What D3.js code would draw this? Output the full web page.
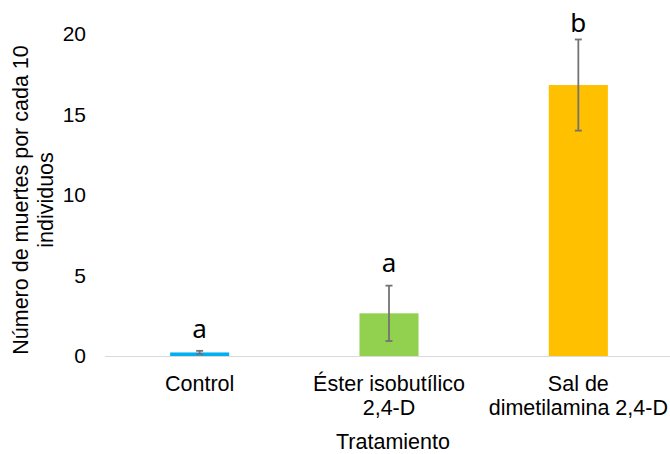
<!DOCTYPE html>
<html><head><meta charset="utf-8">
<script src="https://cdn.jsdelivr.net/npm/d3@7"></script>
<style>body{margin:0;background:#fff}svg{display:block}</style>
</head><body>
<svg id="c" width="670" height="454"></svg>
<script>
const categories = [["Control"], ["Éster isobutílico", "2,4-D"], ["Sal de", "dimetilamina 2,4-D"]];
const means = [0.22, 2.65, 16.83];
const errors = [0.1, 1.72, 2.83];
const letters = ["a", "a", "b"];
const letterAt = [1.1, 5.2, 20.14];
const colors = ["#00B0F0", "#92D050", "#FFC000"];
const yTicks = [0, 5, 10, 15, 20];
const yTitle = ["Número de muertes por cada 10", "individuos"];
const xTitle = "Tratamiento";

const svg = d3.select("#c");
const font = "'Liberation Sans', Arial, sans-serif";
const x = d3.scaleBand().domain(d3.range(categories.length)).range([105, 673]).paddingInner(0.688).paddingOuter(0.344);
const y = d3.scaleLinear().domain([0, 20]).range([356, 34]);

// bars
svg.selectAll("rect.bar").data(means).join("rect").attr("class","bar")
  .attr("x", (d,i)=>x(i)).attr("width", x.bandwidth())
  .attr("y", d=>y(d)).attr("height", d=>y(0)-y(d))
  .attr("fill", (d,i)=>colors[i]);

// x axis line
svg.append("line").attr("x1",105).attr("x2",670).attr("y1",y(0)+0.5).attr("y2",y(0)+0.5)
  .attr("stroke","#d9d9d9").attr("stroke-width",1);

// error bars
const eg = svg.selectAll("g.err").data(means).join("g").attr("class","err")
  .attr("stroke","#737373").attr("stroke-width",1.8);
eg.append("line").attr("x1",(d,i)=>x(i)+x.bandwidth()/2).attr("x2",(d,i)=>x(i)+x.bandwidth()/2)
  .attr("y1",(d,i)=>y(d+errors[i])).attr("y2",(d,i)=>y(d-errors[i]));
eg.append("line").attr("x1",(d,i)=>x(i)+x.bandwidth()/2-3.5).attr("x2",(d,i)=>x(i)+x.bandwidth()/2+3.5)
  .attr("y1",(d,i)=>y(d+errors[i])).attr("y2",(d,i)=>y(d+errors[i]));
eg.append("line").attr("x1",(d,i)=>x(i)+x.bandwidth()/2-3.5).attr("x2",(d,i)=>x(i)+x.bandwidth()/2+3.5)
  .attr("y1",(d,i)=>y(d-errors[i])).attr("y2",(d,i)=>y(d-errors[i]));

// letters
svg.selectAll("text.let").data(letters).join("text").attr("class","let")
  .attr("x",(d,i)=>x(i)+x.bandwidth()/2).attr("y",(d,i)=>y(letterAt[i]))
  .attr("text-anchor","middle").attr("font-family","'Noto Sans', sans-serif").attr("font-size",26)
  .attr("fill","#000").text(d=>d);

// y ticks
svg.selectAll("text.yt").data(yTicks).join("text").attr("class","yt")
  .attr("x",86).attr("y",d=>y(d)).attr("dy","0.35em").attr("text-anchor","end")
  .attr("font-family",font).attr("font-size",21).attr("fill","#000").text(d=>d);

// x category labels
svg.selectAll("text.xt").data(categories).join("text").attr("class","xt")
  .attr("text-anchor","middle").attr("font-family",font).attr("font-size",21.5).attr("fill","#000")
  .each(function(lines,i){
    d3.select(this).selectAll("tspan").data(lines).join("tspan")
      .attr("x", x(i)+x.bandwidth()/2).attr("y",(l,j)=>390.5+j*24.5).text(l=>l);
  });

// x title
svg.append("text").attr("x",393).attr("y",448.5).attr("text-anchor","middle")
  .attr("font-family",font).attr("font-size",21.5).attr("fill","#000").text(xTitle);

// y title
const yt = svg.append("text").attr("transform","translate(0,200) rotate(-90)")
  .attr("text-anchor","middle").attr("font-family",font).attr("font-size",21.5).attr("fill","#000");
yt.selectAll("tspan").data(yTitle).join("tspan").attr("x",0).attr("y",(d,j)=>27.5+j*25).text(d=>d);
</script>
</body></html>
